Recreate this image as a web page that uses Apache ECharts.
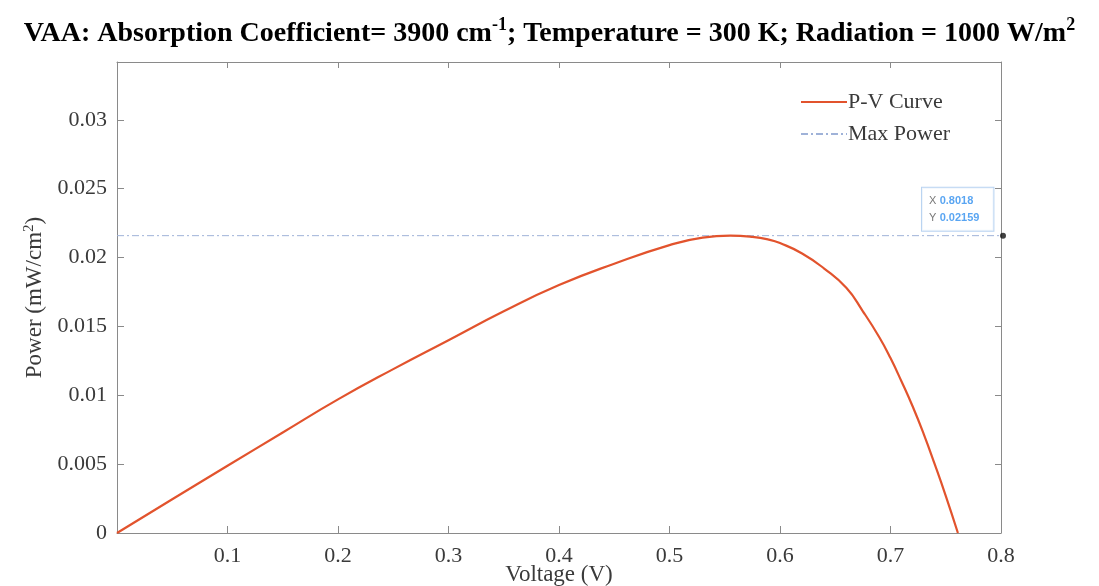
<!DOCTYPE html>
<html>
<head>
<meta charset="utf-8">
<script src="https://cdn.jsdelivr.net/npm/echarts@6/dist/echarts.min.js"></script>
<style>
html, body { margin: 0; padding: 0; background: #fff; }
#container { width: 1099px; height: 586px; }
</style>
</head>
<body>
<div id="container"></div>
<script>
// P-V curve (V in volts, P in mW/cm2)
const voltage = [0, 0.05, 0.1, 0.15, 0.2, 0.25, 0.3, 0.35, 0.4, 0.45, 0.5, 0.53, 0.555, 0.575, 0.59, 0.6, 0.62, 0.64, 0.66, 0.675, 0.69, 0.7, 0.71, 0.72, 0.73, 0.74, 0.75, 0.761];
const power = [0, 0.00245, 0.00488, 0.0073, 0.0097, 0.0119, 0.014, 0.0161, 0.018, 0.01955, 0.0209, 0.02145, 0.02159, 0.0215, 0.0213, 0.02105, 0.0203, 0.0192, 0.0178, 0.0161, 0.0142, 0.0127, 0.011, 0.0092, 0.0072, 0.005, 0.0027, 0];
const maxPowerV = [0, 0.8018];
const maxPower = 0.02159;
const tipX = 0.8018;
const tipY = 0.02159;

const serif = '"Liberation Serif", "DejaVu Serif", serif';
const textCol = '#3a3a3a';
const axisCol = '#8a8a8a';

let myChart = echarts.init(document.getElementById('container'));

let curve = voltage.map((v, i) => [v, power[i]]);
let maxLine = maxPowerV.map(v => [v, maxPower]);

// box axes (top / right) only carry ticks
let boxX = {
    type: 'value', position: 'top', min: 0, max: 0.8, interval: 0.1,
    axisLine: { show: true, onZero: false, lineStyle: { color: axisCol } },
    axisTick: { inside: true, length: 6, lineStyle: { color: axisCol } },
    axisLabel: { show: false },
    splitLine: { show: false }
};
let boxY = {
    type: 'value', position: 'right', min: 0, max: 0.0342, interval: 0.005,
    axisLine: { show: true, onZero: false, lineStyle: { color: axisCol } },
    axisTick: { inside: true, length: 6, lineStyle: { color: axisCol } },
    axisLabel: { show: false },
    splitLine: { show: false }
};

myChart.setOption({
    animation: false,
    title: {
        text: '{t|VAA: Absorption Coefficient= 3900 cm}{s|-1}{t|; Temperature = 300 K; Radiation = 1000 W/m}{s|2}',
        left: 'center',
        top: 11,
        textStyle: {
            rich: {
                t: { fontFamily: serif, fontWeight: 'bold', fontSize: 28, color: '#000' },
                s: { fontFamily: serif, fontWeight: 'bold', fontSize: 18, color: '#000', padding: [0, 0, 18, 0] }
            }
        }
    },
    legend: {
        orient: 'vertical',
        left: 795,
        top: 86,
        itemWidth: 46,
        itemHeight: 10,
        itemGap: 10,
        itemStyle: { opacity: 0 },
        textStyle: { fontFamily: serif, fontSize: 22, color: textCol, padding: [0, 0, 0, -4] },
        data: ['P-V Curve', 'Max Power']
    },
    grid: { left: 117, right: 98, top: 62, bottom: 53, outerBoundsMode: 'none' },
    xAxis: [{
        type: 'value',
        min: 0,
        max: 0.8,
        interval: 0.1,
        name: 'Voltage (V)',
        nameLocation: 'middle',
        nameGap: 30,
        nameMoveOverlap: false,
        nameTextStyle: { fontFamily: serif, fontSize: 23, color: textCol },
        axisLine: { onZero: false, lineStyle: { color: axisCol } },
        axisTick: { inside: true, length: 7, lineStyle: { color: axisCol } },
        axisLabel: { showMinLabel: false, fontFamily: serif, fontSize: 22, color: textCol, margin: 12 },
        splitLine: { show: false }
    }, boxX],
    yAxis: [{
        type: 'value',
        min: 0,
        max: 0.0342,
        interval: 0.005,
        name: '{t|Power (mW/cm}{s|2}{t|)}',
        nameLocation: 'middle',
        nameGap: 68,
        nameTextStyle: {
            rich: {
                t: { fontFamily: serif, fontSize: 23, color: textCol },
                s: { fontFamily: serif, fontSize: 15, color: textCol, padding: [0, 0, 12, 0] }
            }
        },
        axisLine: { show: true, onZero: false, lineStyle: { color: axisCol } },
        axisTick: { inside: true, length: 7, lineStyle: { color: axisCol } },
        axisLabel: { showMaxLabel: false, fontFamily: serif, fontSize: 22, color: textCol, margin: 10 },
        splitLine: { show: false }
    }, boxY],
    series: [
        {
            name: 'P-V Curve',
            type: 'line',
            data: curve,
            smooth: 0.5,
            symbol: 'none',
            lineStyle: { color: '#e2532d', width: 2.2 },
            itemStyle: { color: '#e2532d' },
            z: 3
        },
        {
            name: 'Max Power',
            type: 'line',
            data: maxLine,
            symbol: 'none',
            lineStyle: { color: '#9fb2d8', width: 1, type: [7, 3, 2, 3] },
            itemStyle: { color: '#9fb2d8' },
            z: 2
        },
        {
            name: 'tip',
            type: 'scatter',
            data: [[tipX, tipY]],
            clip: false,
            symbolSize: 6,
            itemStyle: { color: '#111' },
            silent: true,
            label: {
                show: true,
                position: [-78, -45],
                formatter: '{k|X} {v|' + tipX + '}\n{k|Y} {v|' + tipY + '}',
                backgroundColor: '#fff',
                borderColor: '#a8c8ee',
                borderWidth: 1,
                padding: [5, 14, 4, 7],
                rich: {
                    k: { fontFamily: 'Arial, "Liberation Sans", sans-serif', fontSize: 11, color: '#555', lineHeight: 17 },
                    v: { fontFamily: 'Arial, "Liberation Sans", sans-serif', fontSize: 11, fontWeight: 'bold', color: '#2f8fef', lineHeight: 17 }
                }
            },
            z: 5
        }
    ]
});
</script>
</body>
</html>
